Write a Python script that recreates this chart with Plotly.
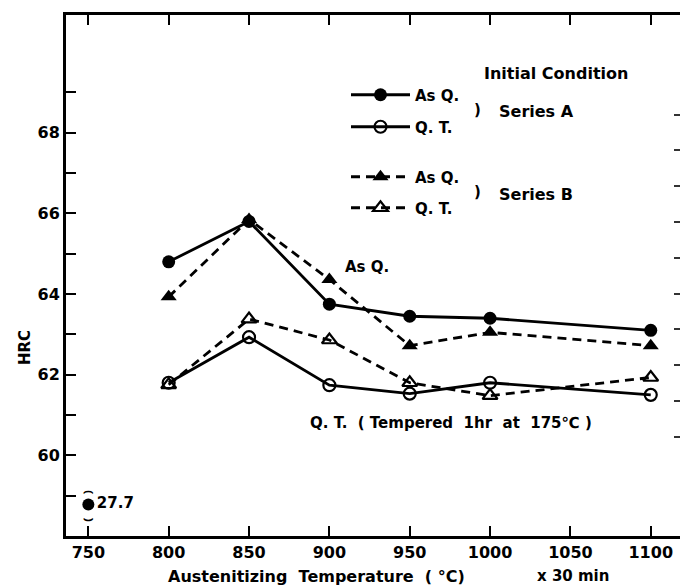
import plotly.graph_objects as go

# ---------------- data ----------------
temps = [800, 850, 900, 950, 1000, 1100]
series_a_as_q = [64.8, 65.8, 63.75, 63.45, 63.4, 63.1]
series_a_q_t = [61.8, 62.93, 61.74, 61.53, 61.8, 61.5]
series_b_as_q = [63.93, 65.85, 64.36, 62.72, 63.05, 62.72]
series_b_q_t = [61.75, 63.38, 62.86, 61.8, 61.48, 61.93]

offscale_temp = [750]
offscale_hrc = [27.7]          # actual value, drawn on a broken-axis position
offscale_plot_pos = [58.78]    # where it is shown below the axis break

x_ticks = [750, 800, 850, 900, 950, 1000, 1050, 1100]
y_ticks = [60, 62, 64, 66, 68]

# ---------------- layout geometry (pixels) ----------------
W, H = 680, 586
L, T, R, B = 66, 15, 680, 536
FONT = "DejaVu Sans"


def px(xp):
    return (xp - L) / (R - L)


def py(yp):
    return (B - yp) / (B - T)


fig = go.Figure()

line_w = 2.8
dash = "9px,6px"

fig.add_trace(go.Scatter(
    x=temps, y=series_a_as_q, mode="lines+markers", name="As Q.",
    line=dict(color="black", width=line_w),
    marker=dict(symbol="circle", size=13, color="black"),
    legend="legend"))
fig.add_trace(go.Scatter(
    x=temps, y=series_a_q_t, mode="lines+markers", name="Q. T.",
    line=dict(color="black", width=line_w),
    marker=dict(symbol="circle-open", size=12, color="black",
                line=dict(width=2.2, color="black")),
    legend="legend2"))
fig.add_trace(go.Scatter(
    x=temps, y=series_b_as_q, mode="lines+markers", name="As Q.",
    line=dict(color="black", width=line_w, dash=dash),
    marker=dict(symbol="triangle-up", size=14, color="black"),
    legend="legend3"))
fig.add_trace(go.Scatter(
    x=temps, y=series_b_q_t, mode="lines+markers", name="Q. T.",
    line=dict(color="black", width=line_w, dash=dash),
    marker=dict(symbol="triangle-up-open", size=13, color="black",
                line=dict(width=2.2, color="black")),
    legend="legend4"))

# off-scale point (27.7 HRC) shown below the axis break
fig.add_trace(go.Scatter(
    x=offscale_temp, y=offscale_plot_pos, mode="markers+text",
    marker=dict(symbol="circle", size=12, color="black"),
    text=[f"{v}" for v in offscale_hrc], textposition="middle right",
    textfont=dict(family=FONT, size=15, color="black", weight="bold"),
    showlegend=False, hoverinfo="skip"))

# helper trace for right-side tick marks
fig.add_trace(go.Scatter(x=[None], y=[None], yaxis="y2", showlegend=False,
                         hoverinfo="skip"))

tickfont = dict(family=FONT, size=16, color="black", weight="bold")

fig.update_layout(
    width=W, height=H,
    margin=dict(l=L, r=W - R, t=T, b=H - B, pad=0),
    paper_bgcolor="white", plot_bgcolor="white",
    font=dict(family=FONT, color="black"),
    xaxis=dict(
        range=[736.1, 1118.2], tickvals=x_ticks,
        ticks="inside", ticklen=10, tickwidth=2, tickcolor="black",
        showline=True, linewidth=2.8, linecolor="black", mirror="ticks",
        showgrid=False, zeroline=False, tickfont=tickfont,
    ),
    yaxis=dict(
        range=[58.0, 70.92], tickvals=y_ticks,
        ticks="inside", ticklen=10, tickwidth=2, tickcolor="black",
        minor=dict(tickvals=[59, 61, 63, 65, 67, 69], ticks="inside",
                   ticklen=10, tickwidth=2, tickcolor="black"),
        showline=True, linewidth=3, linecolor="black",
        showgrid=False, zeroline=False, tickfont=tickfont,
    ),
    yaxis2=dict(
        overlaying="y", side="right", range=[-2.77, 11.78],
        tickvals=list(range(10)), ticks="inside", ticklen=6, tickwidth=1.5,
        tickcolor="#333", showticklabels=False, showline=False,
        showgrid=False, zeroline=False,
    ),
)

legfont = dict(family=FONT, size=15, color="black", weight="bold")
leg_common = dict(xanchor="left", yanchor="middle", font=legfont,
                  bgcolor="rgba(0,0,0,0)", borderwidth=0, itemwidth=59,
                  tracegroupgap=0)
fig.update_layout(
    legend=dict(x=px(346), y=py(95), **leg_common),
    legend2=dict(x=px(346), y=py(127), **leg_common),
    legend3=dict(x=px(346), y=py(177), **leg_common),
    legend4=dict(x=px(346), y=py(208), **leg_common),
)


def ann(text, xp, yp, size=15, xanchor="left", angle=0):
    fig.add_annotation(text=text, x=px(xp), y=py(yp), xref="paper",
                       yref="paper", showarrow=False, xanchor=xanchor,
                       yanchor="middle", textangle=angle,
                       font=dict(family=FONT, size=size, color="black",
                                 weight="bold"))


ann("Initial Condition", 482, 73, size=16)
ann(")", 472, 110, size=15)
ann("Series A", 497, 112, size=16)
ann(")", 472, 192, size=15)
ann("Series B", 497, 194, size=16)
ann("As Q.", 343, 267, size=15)
ann("Q. T.  ( Tempered  1hr  at  175℃ )", 308, 423, size=15)
ann("Austenitizing  Temperature  ( °C)", 166, 576, size=16)
ann("x 30 min", 535, 576, size=15)
ann("HRC", 25, 348, size=15, xanchor="center", angle=-90)
ann("⌢", 88, 490, size=16, xanchor="center")
ann("⌣", 88, 518, size=16, xanchor="center")

fig.write_html("out.html")
